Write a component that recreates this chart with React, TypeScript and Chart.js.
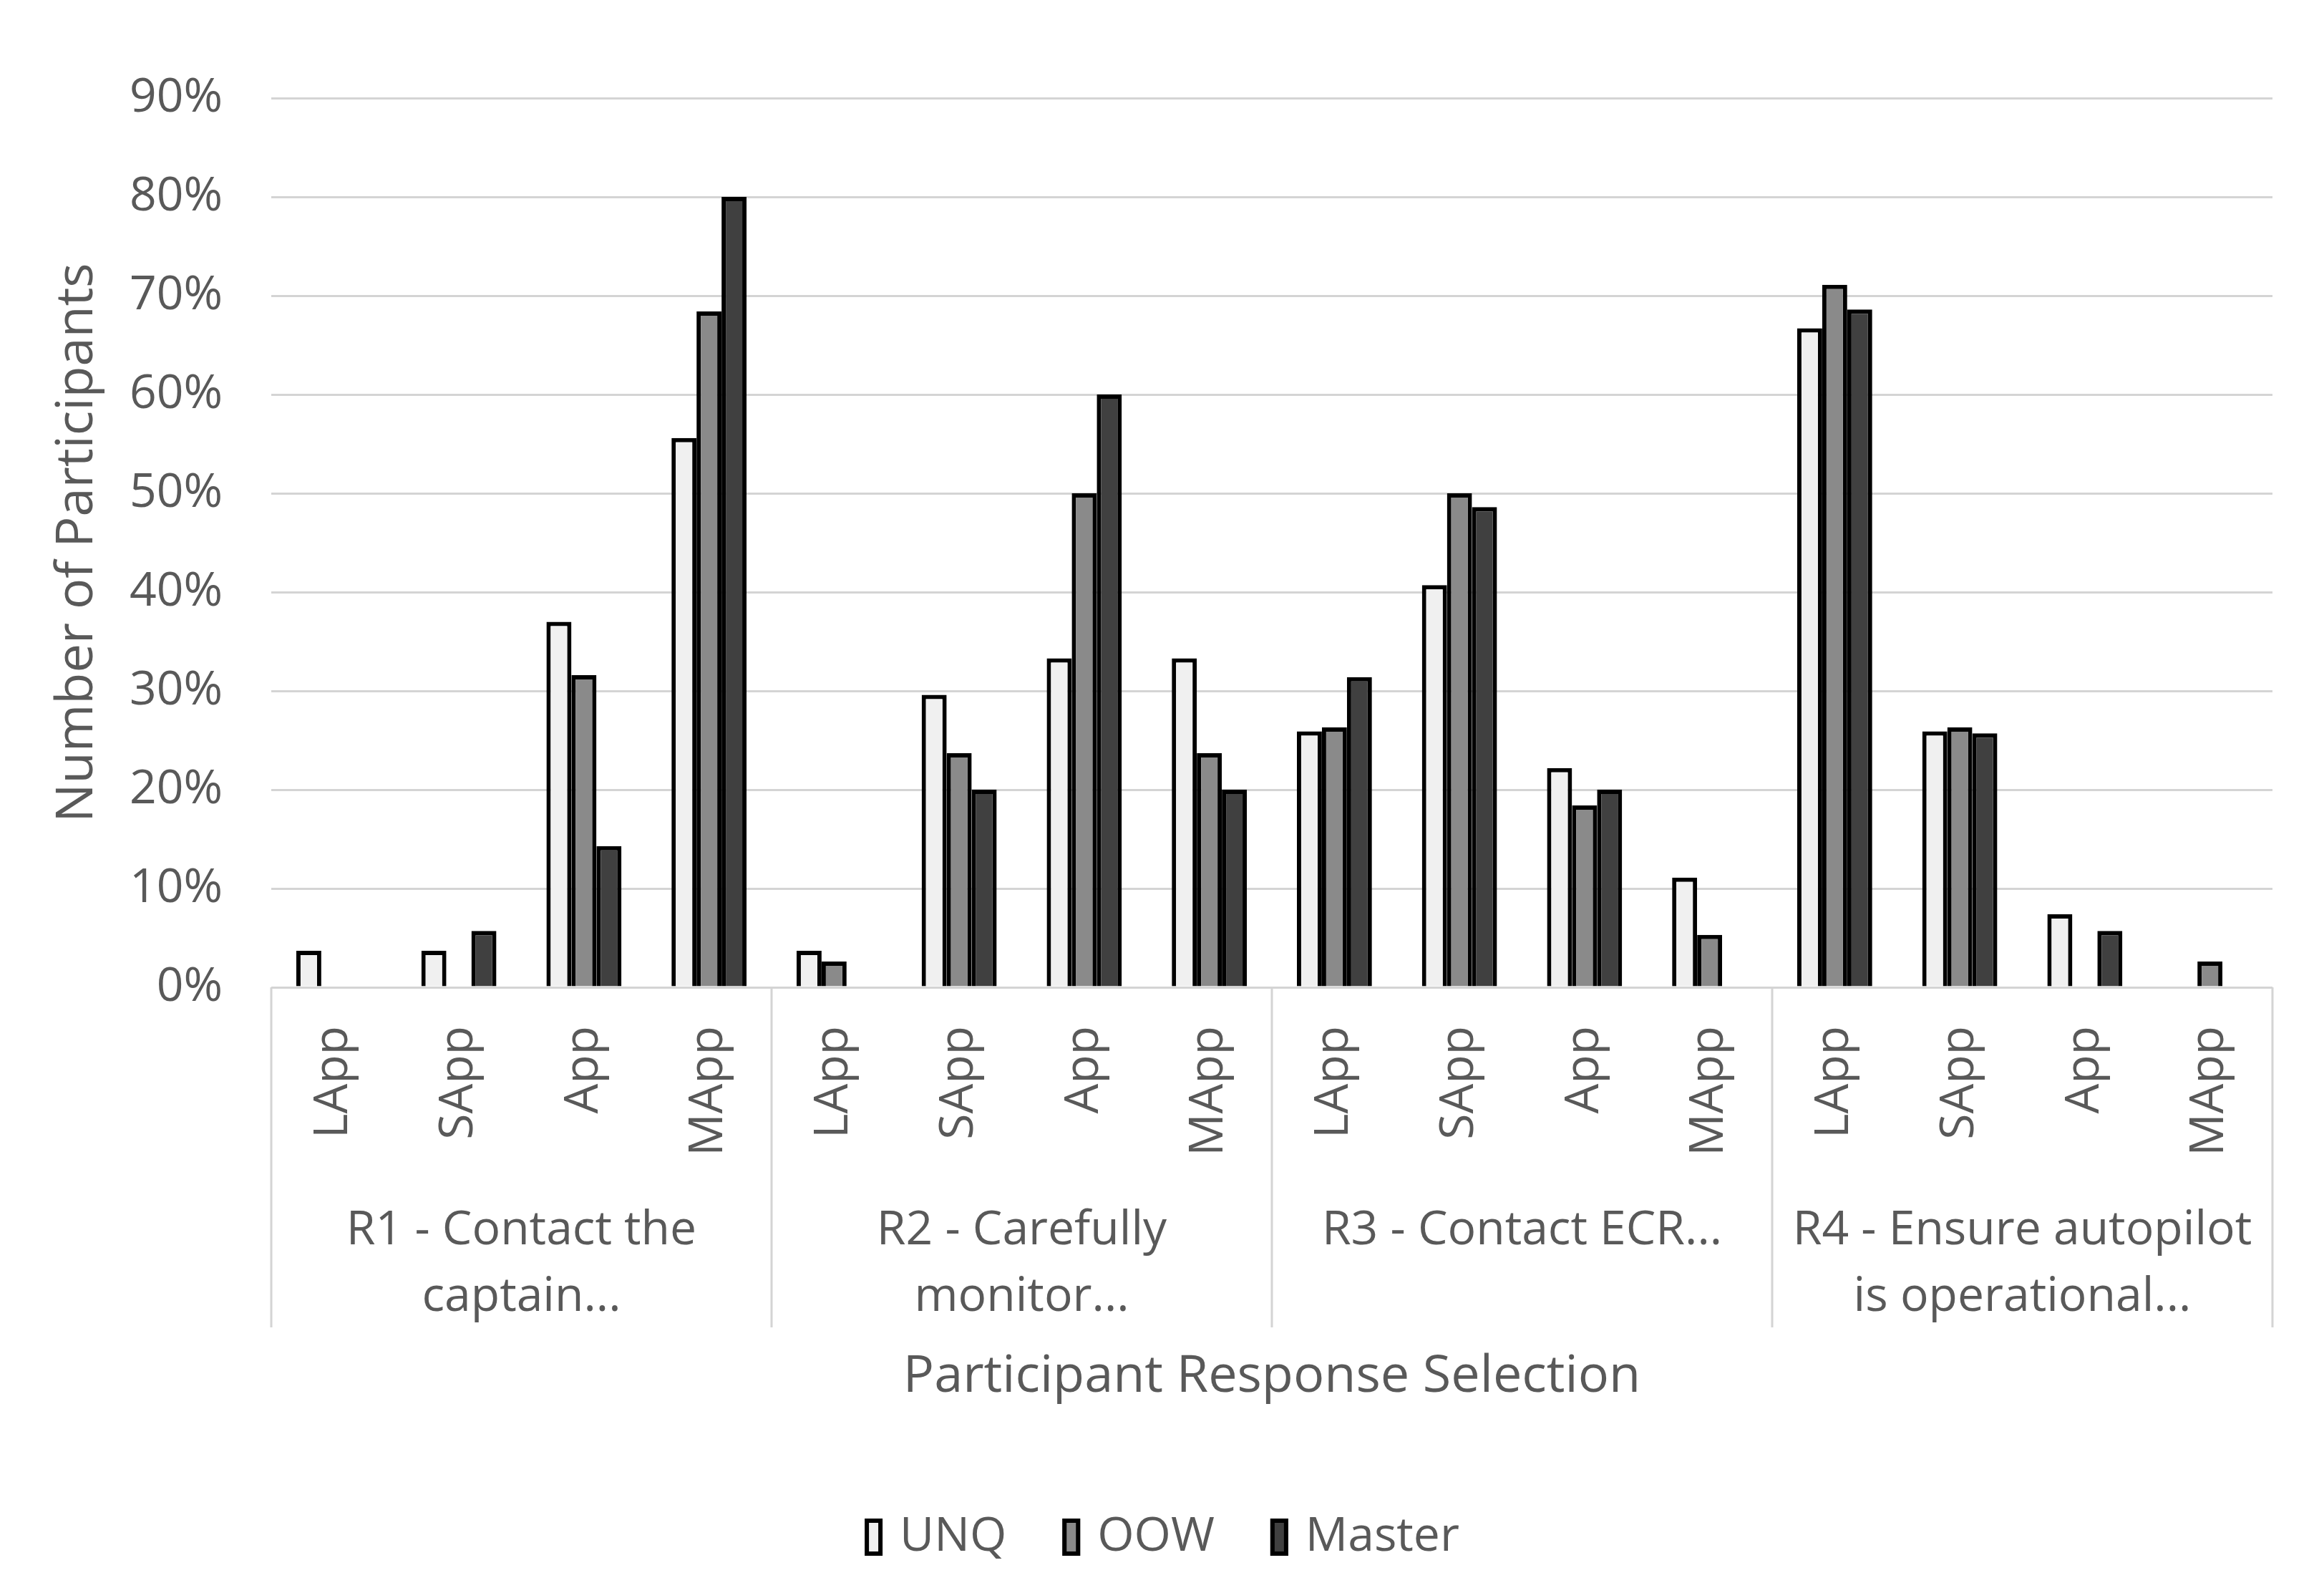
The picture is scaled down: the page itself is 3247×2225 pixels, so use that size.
import React, { useEffect, useRef } from "react";
import { Chart, registerables } from "chart.js";

Chart.register(...registerables);

const categories = ["LApp", "SApp", "App", "MApp"];
const groupLabels: string[][] = [
  ["R1 - Contact the", "captain..."],
  ["R2 - Carefully", "monitor..."],
  ["R3 - Contact ECR..."],
  ["R4 - Ensure autopilot", "is operational..."],
];
const seriesNames = ["UNQ", "OOW", "Master"];
const seriesColors = ["#f0f0f0", "#8a8a8a", "#404040"];
const unqValues = [3.7, 3.7, 37.0, 55.6, 3.7, 29.6, 33.3, 33.3, 25.9, 40.7, 22.2, 11.1, 66.7, 25.9, 7.4, 0];
const oowValues = [0, 0, 31.6, 68.4, 2.6, 23.7, 50.0, 23.7, 26.3, 50.0, 18.4, 5.3, 71.1, 26.3, 0, 2.6];
const masterValues = [0, 5.7, 14.3, 80.0, 0, 20.0, 60.0, 20.0, 31.4, 48.6, 20.0, 0, 68.6, 25.7, 5.7, 0];
const yTicksMax = 90;
const yTickStep = 10;
const yTitle = "Number of Participants";
const xTitle = "Participant Response Selection";

const FONT = "'Open Sans', sans-serif";
const TEXT = "#595959";
const GRID = "#d4d4d4";

const groupPlugin = {
  id: "groupPlugin",
  afterDraw(chart: any) {
    const xs = chart.scales.x;
    const ctx = chart.ctx;
    ctx.save();
    ctx.strokeStyle = GRID;
    ctx.lineWidth = 3;
    const per = categories.length;
    for (let g = 0; g <= groupLabels.length; g++) {
      const px = Math.round(xs.getPixelForValue(g * per - 0.5));
      ctx.beginPath();
      ctx.moveTo(px, xs.top);
      ctx.lineTo(px, xs.top + 475);
      ctx.stroke();
    }
    ctx.fillStyle = TEXT;
    ctx.font = `66px ${FONT}`;
    ctx.textAlign = "center";
    ctx.textBaseline = "middle";
    groupLabels.forEach((lines, g) => {
      const cx = (xs.getPixelForValue(g * per) + xs.getPixelForValue(g * per + per - 1)) / 2;
      lines.forEach((ln, i) => {
        ctx.fillText(ln, cx, xs.top + 340 + i * 93);
      });
    });

    // legend
    const ds = chart.data.datasets;
    const boxW = 25;
    const boxH = 52;
    const textGap = 24;
    const itemGap = 78;
    const widths = ds.map((d: any) => boxW + textGap + ctx.measureText(d.label).width);
    const total = widths.reduce((a: number, b: number) => a + b, 0) + itemGap * (ds.length - 1);
    let lx = chart.width / 2 - total / 2;
    const ly = xs.bottom + 109;
    ctx.textAlign = "left";
    ds.forEach((d: any, i: number) => {
      ctx.fillStyle = d.backgroundColor;
      ctx.fillRect(lx, ly - boxH / 2, boxW, boxH);
      ctx.strokeStyle = "#000";
      ctx.lineWidth = 6;
      ctx.strokeRect(lx + 3, ly - boxH / 2 + 3, boxW - 6, boxH - 6);
      ctx.fillStyle = TEXT;
      ctx.fillText(d.label, lx + boxW + textGap, ly);
      lx += widths[i] + itemGap;
    });
    ctx.restore();
  },
};

export default function App() {
  const ref = useRef<HTMLCanvasElement>(null);
  useEffect(() => {
    if (!ref.current) return;
    const labels = groupLabels.flatMap(() => categories);
    const values = [unqValues, oowValues, masterValues];
    const chart = new Chart(ref.current, {
      type: "bar",
      data: {
        labels,
        datasets: seriesNames.map((name, i) => ({
          label: name,
          data: values[i],
          backgroundColor: seriesColors[i],
          borderColor: "#000",
          borderWidth: 6,
        })),
      },
      options: {
        animation: false,
        responsive: true,
        maintainAspectRatio: false,
        devicePixelRatio: 1,
        layout: { padding: { left: 0, right: 72, top: 137, bottom: 187 } },
        datasets: { bar: { categoryPercentage: 0.6, barPercentage: 1.0 } } as any,
        plugins: {
          legend: { display: false },
          tooltip: { enabled: false },
        },
        scales: {
          x: {
            grid: { display: false, drawTicks: false },
            border: { display: false },
            ticks: {
              autoSkip: false,
              maxRotation: 90,
              minRotation: 90,
              padding: 54,
              color: TEXT,
              font: { family: FONT, size: 66 },
            },
            title: {
              display: true,
              text: xTitle,
              color: TEXT,
              font: { family: FONT, size: 72 },
              padding: { top: 0, bottom: 71 },
            },
            afterFit: (s: any) => {
              s.height = 659;
            },
          },
          y: {
            min: 0,
            max: yTicksMax,
            grid: { color: GRID, lineWidth: 3, drawTicks: false },
            border: { display: false },
            ticks: {
              stepSize: yTickStep,
              padding: 68,
              color: TEXT,
              font: { family: FONT, size: 66 },
              callback: (v: any) => `${v}%`,
            },
            title: {
              display: true,
              text: yTitle,
              color: TEXT,
              font: { family: FONT, size: 72 },
              padding: { top: 65, bottom: 0 },
            },
            afterFit: (s: any) => {
              s.width = 379;
            },
          },
        },
      },
      plugins: [groupPlugin],
    });
    return () => chart.destroy();
  }, []);
  return (
    <div style={{ position: "fixed", left: 0, top: 0, width: 3247, height: 2225, background: "#fff" }}>
      <canvas ref={ref} />
    </div>
  );
}
